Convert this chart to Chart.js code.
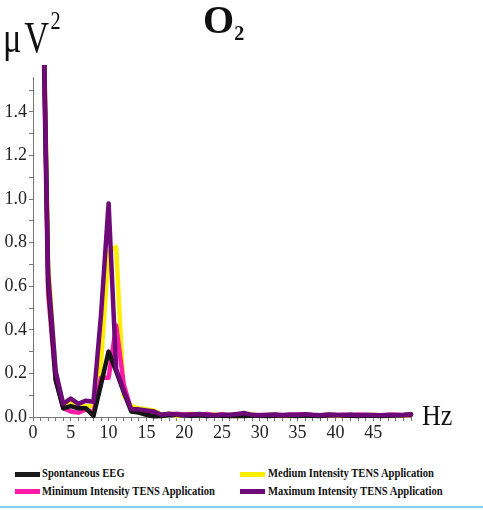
<!DOCTYPE html>
<html>
<head>
<meta charset="utf-8">
<script src="https://cdn.jsdelivr.net/npm/chart.js@4/dist/chart.umd.min.js"></script>
<style>
  body { margin: 0; background: #fff; }
  #wrap { position: relative; width: 483px; height: 510px; overflow: hidden; font-family: "Liberation Serif", "Times New Roman", Tinos, "DejaVu Serif", serif; }
  #myChart { position: absolute; left: 0; top: 0; }
  .txt { position: absolute; line-height: 1; color: #111; white-space: nowrap; transform-origin: left top; }
  #title { left: 203px; top: 0px; font-size: 40px; font-weight: bold; }
  #title sub { font-size: 20px; vertical-align: baseline; position: relative; top: 7px; }
  #unit { left: 3px; top: 16px; font-size: 44px; transform: scaleX(0.78); }
  #unit .sup { font-size: 26px; position: relative; top: -23px; margin-left: 2px; }
  #hz { left: 422px; top: 401px; font-size: 29px; transform: scaleX(0.9); }
  .leg { position: absolute; font-size: 11.5px; font-weight: bold; line-height: 1; color: #111; white-space: nowrap; transform: scaleX(0.92); transform-origin: left top; }
  .sw { position: absolute; width: 25px; height: 5px; }
  #rule { position: absolute; left: 0; top: 506px; width: 483px; height: 2px; background: #7fcff0; }
</style>
</head>
<body>
<div id="wrap">
  <canvas id="myChart" width="483" height="445"></canvas>
  <div class="txt" id="title">O<sub>2</sub></div>
  <div class="txt" id="unit">μ&#8202;V<span class="sup">2</span></div>
  <div class="txt" id="hz">Hz</div>

  <div class="sw" style="left:15px;top:472px;background:#1a1a1a"></div>
  <div class="leg" style="left:42px;top:468px">Spontaneous EEG</div>
  <div class="sw" style="left:15px;top:489px;background:#ff1aa8"></div>
  <div class="leg" style="left:42px;top:486px">Minimum Intensity TENS Application</div>
  <div class="sw" style="left:240px;top:472px;background:#ffee00"></div>
  <div class="leg" style="left:268px;top:468px">Medium Intensity TENS Application</div>
  <div class="sw" style="left:240px;top:489px;background:#6e0a78"></div>
  <div class="leg" style="left:268px;top:486px">Maximum Intensity TENS Application</div>
  <div id="rule"></div>
</div>
<script>
// frequency bins (Hz)
const hz = [1,2,3,4,5,6,7,8,9,10,11,12,13,14,15,16,17,18,19,20,
            21,22,23,24,25,26,27,28,29,30,31,32,33,34,35,36,37,38,39,40,
            41,42,43,44,45,46,47,48,49,50];

// power values (uV^2)
const spontaneous = [2.55,0.62,0.17,0.04,0.05,0.04,0.04,0.005,0.15,0.30,
                     0.21,0.115,0.025,0.02,0.01,0.003,0.005,0.01,0.01,0.008,
                     0.006,0.008,0.005,0.007,0.006,0.004,0.006,0.005,0.007,0.006,
                     0.005,0.006,0.008,0.006,0.005,0.007,0.006,0.005,0.008,0.009,
                     0.007,0.006,0.005,0.007,0.006,0.005,0.006,0.007,0.008,0.012];
const minimum = [2.5,0.57,0.17,0.04,0.025,0.02,0.035,0.02,0.18,0.18,
                 0.42,0.15,0.03,0.03,0.02,0.01,0.01,0.012,0.015,0.01,
                 0.012,0.01,0.014,0.008,0.01,0.006,0.008,0.01,0.007,0.009,
                 0.008,0.01,0.006,0.008,0.012,0.01,0.007,0.006,0.009,0.008,
                 0.01,0.006,0.012,0.008,0.007,0.006,0.009,0.01,0.008,0.01];
const medium = [2.62,0.70,0.20,0.05,0.07,0.05,0.05,0.05,0.25,0.76,
                0.78,0.10,0.05,0.04,0.035,0.03,0.01,0.015,0.005,0.012,
                0.015,0.01,0.008,0.012,0.006,0.009,0.004,0.01,0.012,0.006,
                0.008,0.01,0.006,0.004,0.01,0.012,0.008,0.006,0.01,0.007,
                0.005,0.009,0.006,0.008,0.01,0.007,0.005,0.008,0.006,0.01];
const maximum = [2.6,0.66,0.21,0.06,0.085,0.06,0.075,0.07,0.47,0.98,
                 0.22,0.12,0.035,0.035,0.03,0.025,0.01,0.015,0.012,0.01,
                 0.012,0.014,0.01,0.008,0.012,0.01,0.014,0.018,0.01,0.008,
                 0.01,0.012,0.009,0.011,0.01,0.013,0.01,0.008,0.012,0.01,
                 0.009,0.011,0.008,0.01,0.009,0.008,0.01,0.009,0.01,0.012];

const yTicks = [0,0.1,0.2,0.3,0.4,0.5,0.6,0.7,0.8,0.9,1.0,1.1,1.2,1.3,1.4,1.5];
const xTicks = [];
for (let i = 0; i <= 50; i++) xTicks.push(i);

const toPts = (vals) => vals.map((v, i) => ({ x: hz[i], y: v }));

const mkSet = (label, vals, color, order) => ({
    label: label,
    data: toPts(vals),
    borderColor: color,
    backgroundColor: color,
    borderWidth: 4.5,
    pointRadius: 0,
    tension: 0,
    borderJoinStyle: 'round',
    borderCapStyle: 'round',
    order: order,
    clip: { left: 10, top: 12, right: 10, bottom: 10 }
});

const axisFont = { family: '"Liberation Serif", "Times New Roman", Tinos, "DejaVu Serif", serif', size: 18 };

new Chart(document.getElementById('myChart'), {
    type: 'line',
    data: {
        datasets: [
            mkSet('Spontaneous EEG', spontaneous, '#151515', 2),
            mkSet('Minimum Intensity TENS Application', minimum, '#ff1aa8', 3),
            mkSet('Medium Intensity TENS Application', medium, '#ffee00', 4),
            mkSet('Maximum Intensity TENS Application', maximum, '#6e0a78', 1)
        ]
    },
    options: {
        responsive: false,
        animation: false,
        devicePixelRatio: 1,
        layout: { padding: { top: 77, right: 72, left: 0, bottom: 0 } },
        plugins: { legend: { display: false }, tooltip: { enabled: false } },
        scales: {
            x: {
                type: 'linear',
                min: 0,
                max: 50,
                afterBuildTicks: (s) => { s.ticks = xTicks.map(v => ({ value: v })); },
                afterFit: (s) => { s.height = 28; },
                ticks: {
                    autoSkip: false,
                    maxRotation: 0,
                    padding: 1,
                    color: '#222',
                    font: axisFont,
                    callback: (v) => (v % 5 === 0 && v < 50) ? String(v) : ''
                },
                grid: { drawOnChartArea: false, drawTicks: true, tickLength: 4, tickColor: '#777' },
                border: { display: true, color: '#777', width: 1 }
            },
            y: {
                min: 0,
                max: 1.56,
                afterBuildTicks: (s) => { s.ticks = yTicks.map(v => ({ value: v })); },
                afterFit: (s) => { s.width = 33; },
                ticks: {
                    autoSkip: false,
                    padding: 2,
                    color: '#222',
                    font: axisFont,
                    callback: (v) => (Math.round(v * 10) % 2 === 0) ? v.toFixed(1) : ''
                },
                grid: { drawOnChartArea: false, drawTicks: true, tickLength: 4, tickColor: '#777' },
                border: { display: true, color: '#777', width: 1 }
            }
        }
    }
});
</script>
</body>
</html>
